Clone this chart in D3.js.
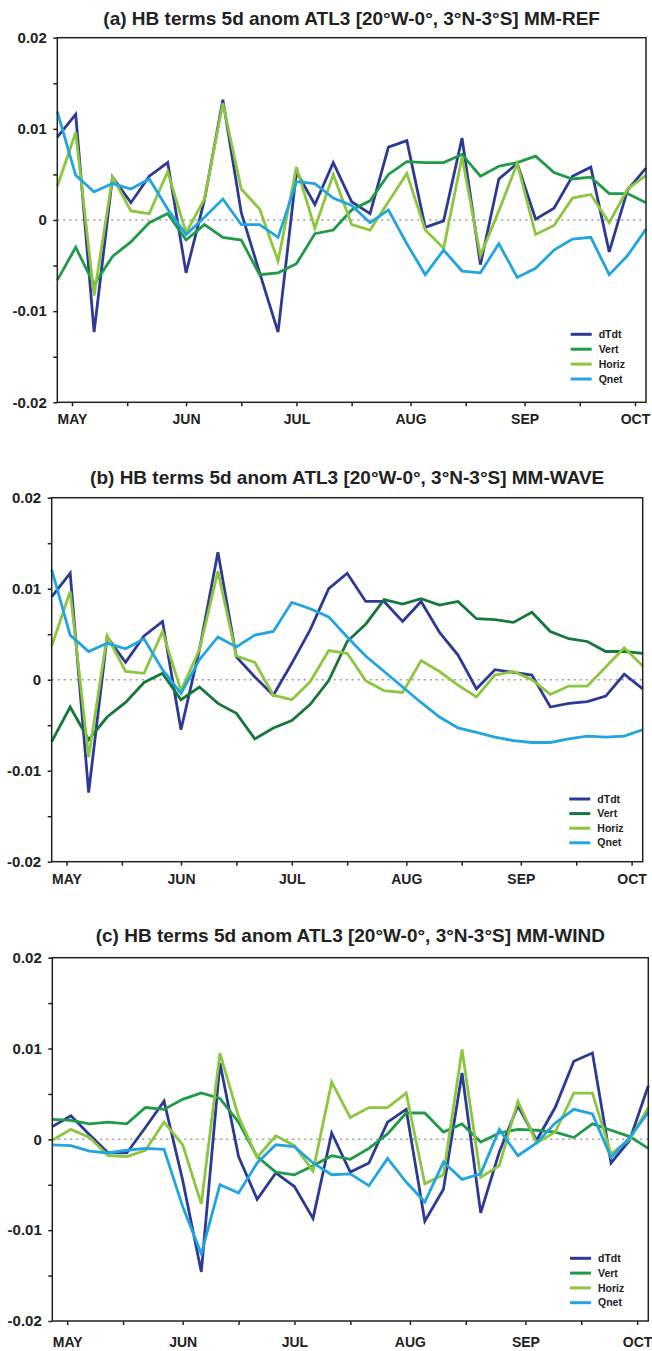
<!DOCTYPE html>
<html>
<head>
<meta charset="utf-8">
<title>HB terms 5d anom ATL3</title>
<script src="https://cdn.jsdelivr.net/npm/d3@7"></script>
<style>
  body { margin: 0; background: #fff; }
  svg { display: block; font-family: "Liberation Sans", Arial, sans-serif; }
</style>
</head>
<body>
<div id="chart"></div>
<script>
// pentad dates (5-day steps)
var dates = ["2001-04-27","2001-05-02","2001-05-07","2001-05-12","2001-05-17","2001-05-22","2001-05-27",
  "2001-06-01","2001-06-06","2001-06-11","2001-06-16","2001-06-21","2001-06-26",
  "2001-07-01","2001-07-06","2001-07-11","2001-07-16","2001-07-21","2001-07-26","2001-07-31",
  "2001-08-05","2001-08-10","2001-08-15","2001-08-20","2001-08-25","2001-08-30",
  "2001-09-04","2001-09-09","2001-09-14","2001-09-19","2001-09-24","2001-09-29","2001-10-04"];

var monthTicks = ["2001-05-01","2001-06-01","2001-07-01","2001-08-01","2001-09-01","2001-10-01"];
var monthLabels = ["MAY","JUN","JUL","AUG","SEP","OCT"];
var midMonthTicks = ["2001-05-16","2001-06-16","2001-07-16","2001-08-16","2001-09-16"];

var yTicks = [-0.02, -0.01, 0, 0.01, 0.02];
var yTickLabels = ["-0.02", "-0.01", "0", "0.01", "0.02"];
var yMinorTicks = [-0.015, -0.005, 0.005, 0.015];

var seriesNames = ["dTdt", "Vert", "Horiz", "Qnet"];
var titles = [
  "(a) HB terms 5d anom ATL3 [20°W-0°, 3°N-3°S] MM-REF",
  "(b) HB terms 5d anom ATL3 [20°W-0°, 3°N-3°S] MM-WAVE",
  "(c) HB terms 5d anom ATL3 [20°W-0°, 3°N-3°S] MM-WIND"
];

// (a) MM-REF
var refDTdt  = [0.0091,0.0116,-0.0123,0.0047,0.0019,0.0048,0.0063,-0.0058,0.0022,0.0132,0.0008,-0.0058,-0.0123,0.0053,0.0017,0.0063,0.0020,0.0007,0.0080,0.0087,-0.0008,-0.0001,0.0090,-0.0049,0.0045,0.0062,0.0001,0.0013,0.0048,0.0058,-0.0035,0.0033,0.0057];
var refVert  = [-0.0066,-0.0030,-0.0071,-0.0040,-0.0024,-0.0003,0.0007,-0.0022,-0.0005,-0.0019,-0.0022,-0.0060,-0.0058,-0.0048,-0.0015,-0.0011,0.0011,0.0021,0.0050,0.0064,0.0063,0.0063,0.0072,0.0048,0.0059,0.0063,0.0070,0.0052,0.0045,0.0047,0.0029,0.0029,0.0019];
var refHoriz = [0.0037,0.0096,-0.0083,0.0047,0.0010,0.0007,0.0053,-0.0014,0.0023,0.0128,0.0034,0.0012,-0.0045,0.0058,-0.0009,0.0050,-0.0005,-0.0011,0.0020,0.0051,-0.0011,-0.0031,0.0069,-0.0039,0.0010,0.0062,-0.0016,-0.0006,0.0024,0.0028,-0.0003,0.0034,0.0049];
var refQnet  = [0.0119,0.0049,0.0031,0.0040,0.0034,0.0045,0.0012,-0.0016,0.0003,0.0023,-0.0005,-0.0005,-0.0019,0.0042,0.0040,0.0024,0.0016,-0.0003,0.0011,-0.0026,-0.0060,-0.0033,-0.0056,-0.0058,-0.0026,-0.0063,-0.0053,-0.0033,-0.0021,-0.0019,-0.0060,-0.0039,-0.0010];

// (b) MM-WAVE
var waveDTdt  = [0.0091,0.0117,-0.0124,0.0047,0.0019,0.0048,0.0064,-0.0055,0.0033,0.0140,0.0025,0.0003,-0.0017,0.0018,0.0055,0.0100,0.0117,0.0086,0.0086,0.0064,0.0086,0.0052,0.0027,-0.0010,0.0011,0.0008,0.0005,-0.0030,-0.0026,-0.0024,-0.0018,0.0006,-0.0010];
var waveVert  = [-0.0068,-0.0030,-0.0066,-0.0041,-0.0025,-0.0003,0.0007,-0.0022,-0.0008,-0.0026,-0.0037,-0.0065,-0.0053,-0.0045,-0.0027,-0.0001,0.0042,0.0061,0.0088,0.0083,0.0089,0.0082,0.0086,0.0067,0.0066,0.0063,0.0074,0.0053,0.0045,0.0042,0.0031,0.0031,0.0029];
var waveHoriz = [0.0037,0.0097,-0.0085,0.0048,0.0009,0.0007,0.0053,-0.0012,0.0033,0.0119,0.0026,0.0019,-0.0017,-0.0022,-0.0002,0.0032,0.0029,-0.0001,-0.0012,-0.0014,0.0021,0.0009,-0.0006,-0.0019,0.0005,0.0009,0.0000,-0.0016,-0.0007,-0.0007,0.0014,0.0035,0.0015];
var waveQnet  = [0.0121,0.0049,0.0031,0.0040,0.0034,0.0045,0.0011,-0.0015,0.0022,0.0047,0.0036,0.0049,0.0053,0.0085,0.0078,0.0069,0.0047,0.0026,0.0009,-0.0008,-0.0025,-0.0041,-0.0053,-0.0058,-0.0063,-0.0067,-0.0069,-0.0069,-0.0065,-0.0062,-0.0063,-0.0062,-0.0055];

// (c) MM-WIND
var windDTdt  = [0.0014,0.0026,0.0005,-0.0015,-0.0015,0.0013,0.0042,-0.0045,-0.0146,0.0084,-0.0019,-0.0066,-0.0037,-0.0052,-0.0087,0.0007,-0.0036,-0.0026,0.0019,0.0033,-0.0090,-0.0055,0.0073,-0.0081,-0.0014,0.0037,-0.0001,0.0035,0.0086,0.0095,-0.0026,-0.0001,0.0059];
var windVert  = [0.0022,0.0021,0.0017,0.0019,0.0017,0.0035,0.0033,0.0044,0.0051,0.0045,0.0019,-0.0019,-0.0036,-0.0039,-0.0029,-0.0018,-0.0022,-0.0010,0.0006,0.0029,0.0029,0.0008,0.0017,-0.0003,0.0007,0.0011,0.0010,0.0008,0.0002,0.0017,0.0010,0.0003,-0.0010];
var windHoriz = [-0.0001,0.0011,0.0002,-0.0018,-0.0019,-0.0012,0.0019,-0.0006,-0.0071,0.0095,0.0025,-0.0020,0.0004,-0.0007,-0.0035,0.0063,0.0024,0.0035,0.0035,0.0051,-0.0049,-0.0039,0.0099,-0.0042,-0.0029,0.0042,-0.0004,0.0008,0.0051,0.0051,-0.0016,0.0000,0.0035];
var windQnet  = [-0.0006,-0.0007,-0.0013,-0.0015,-0.0012,-0.0010,-0.0011,-0.0074,-0.0126,-0.0050,-0.0059,-0.0026,-0.0006,-0.0008,-0.0026,-0.0039,-0.0038,-0.0051,-0.0021,-0.0047,-0.0069,-0.0025,-0.0044,-0.0038,0.0011,-0.0018,-0.0004,0.0018,0.0033,0.0028,-0.0020,0.0002,0.0030];

var panelData = [
  [refDTdt, refVert, refHoriz, refQnet],
  [waveDTdt, waveVert, waveHoriz, waveQnet],
  [windDTdt, windVert, windHoriz, windQnet]
];

// layout of each panel (pixels)
var panels = [
  {left: 57.3, right: 646,   top: 37.7,  bottom: 402.3, titleY: 25,    xPad: 7.7,  legX: 570.7, legY: 334.3, legStep: 14.9, vert: "#1f9a49"},
  {left: 51.7, right: 642.7, top: 497.7, bottom: 861.7, titleY: 484,   xPad: 8.5,  legX: 569.3, legY: 799,   legStep: 14.6, vert: "#17763a"},
  {left: 52.3, right: 648.3, top: 957.7, bottom: 1321,  titleY: 941.7, xPad: 12,   legX: 570,   legY: 1258.3, legStep: 14.8, vert: "#1f9a49"}
];

var colors = ["#2d3a94", null, "#8cc63f", "#22a4df"];
var parse = d3.utcParse("%Y-%m-%d");

var svg = d3.select("#chart").append("svg")
    .attr("width", 652)
    .attr("height", 1351);

panels.forEach(function(p, k) {
    var x = d3.scaleUtc()
        .domain([parse(dates[0]), parse(dates[dates.length - 1])])
        .range([p.left, p.right]);
    var y = d3.scaleLinear()
        .domain([-0.02, 0.02])
        .range([p.bottom, p.top]);

    var g = svg.append("g");

    // title
    g.append("text")
        .attr("x", (p.left + p.right) / 2)
        .attr("y", p.titleY)
        .attr("text-anchor", "middle")
        .attr("font-size", "19px")
        .attr("font-weight", "bold")
        .attr("fill", "#222")
        .text(titles[k]);

    // zero line
    g.append("line")
        .attr("x1", p.left).attr("x2", p.right)
        .attr("y1", y(0)).attr("y2", y(0))
        .attr("stroke", "#9a9a9a")
        .attr("stroke-width", 1.5)
        .attr("stroke-dasharray", "2,4");

    // y axis
    var yAx = g.append("g")
        .attr("transform", "translate(" + p.left + ",0)")
        .call(d3.axisLeft(y).tickValues(yTicks).tickSize(4).tickPadding(6.5)
            .tickFormat(function(d, i) { return yTickLabels[i]; }));
    var yMin = g.append("g")
        .attr("transform", "translate(" + p.left + ",0)")
        .call(d3.axisLeft(y).tickValues(yMinorTicks).tickSize(4).tickFormat(""));

    // x axis
    var xAx = g.append("g")
        .attr("transform", "translate(0," + p.bottom + ")")
        .call(d3.axisBottom(x).tickValues(monthTicks.map(parse)).tickSize(4).tickPadding(p.xPad)
            .tickFormat(function(d, i) { return monthLabels[i]; }));
    var xMin = g.append("g")
        .attr("transform", "translate(0," + p.bottom + ")")
        .call(d3.axisBottom(x).tickValues(midMonthTicks.map(parse)).tickSize(4).tickFormat(""));

    [yAx, yMin, xAx, xMin].forEach(function(a) {
        a.select(".domain").remove();
        a.selectAll("line").attr("stroke", "#222").attr("stroke-width", 1.5);
        a.selectAll("text")
            .attr("fill", "#222")
            .attr("font-family", "Liberation Sans, Arial, sans-serif")
            .attr("font-weight", "bold");
    });
    yAx.selectAll("text").attr("font-size", "15px");
    xAx.selectAll("text").attr("font-size", "14px");

    // series lines
    var line = d3.line()
        .x(function(d, i) { return x(parse(dates[i])); })
        .y(function(d) { return y(d); });

    panelData[k].forEach(function(vals, s) {
        g.append("path")
            .datum(vals)
            .attr("d", line)
            .attr("fill", "none")
            .attr("stroke", s === 1 ? p.vert : colors[s])
            .attr("stroke-width", 2.8);
    });

    // frame
    g.append("rect")
        .attr("x", p.left).attr("y", p.top)
        .attr("width", p.right - p.left)
        .attr("height", p.bottom - p.top)
        .attr("fill", "none")
        .attr("stroke", "#222")
        .attr("stroke-width", 1.5);

    // legend
    var leg = g.selectAll(".leg")
        .data(seriesNames)
        .enter().append("g")
        .attr("transform", function(d, i) { return "translate(" + p.legX + "," + (p.legY + i * p.legStep) + ")"; });
    leg.append("line")
        .attr("x1", 0).attr("x2", 21)
        .attr("stroke", function(d, i) { return i === 1 ? p.vert : colors[i]; })
        .attr("stroke-width", 3);
    leg.append("text")
        .attr("x", 28)
        .attr("dy", "0.35em")
        .attr("font-size", "10.5px")
        .attr("font-weight", "bold")
        .attr("fill", "#222")
        .text(function(d) { return d; });
});
</script>
</body>
</html>
